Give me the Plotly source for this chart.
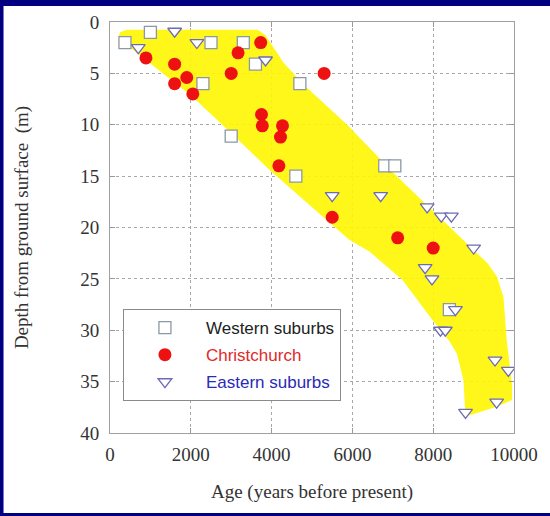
import plotly.graph_objects as go

# ---------------- data ----------------
western_age = [370, 1000, 2500, 3300, 3600, 2300, 4700, 3000, 4600, 6800, 7050, 8400]
western_depth = [2.0, 1.0, 2.0, 2.0, 4.1, 6.0, 6.0, 11.1, 15.0, 14.0, 14.0, 28.0]

christchurch_age = [890, 1600, 1600, 1900, 2050, 3000, 3170, 3730, 3750, 3770, 4270,
                    4220, 4180, 5300, 5500, 7120, 8000]
christchurch_depth = [3.5, 4.1, 6.0, 5.4, 7.0, 5.0, 3.0, 2.0, 9.0, 10.1, 10.1,
                      11.2, 14.0, 5.0, 19.0, 21.0, 22.0]

eastern_age = [700, 1600, 2150, 3850, 5500, 6700, 7850, 8200, 8450, 9000, 7800,
               7970, 8550, 8180, 8300, 9530, 9860, 9570, 8800]
eastern_depth = [2.5, 0.9, 2.0, 3.7, 16.9, 16.9, 18.0, 18.9, 18.9, 22.0, 23.9,
                 25.0, 28.0, 30.0, 30.0, 32.9, 33.9, 37.0, 38.0]

# outline of the yellow envelope (age, depth)
band_age = [250, 420, 3650, 3850, 4300, 4850, 5870, 7100, 8950, 9350, 9580, 9740,
            9820, 9950, 9950, 9530, 8880, 8790, 8750, 8590, 8390, 7980, 7240, 6410,
            5920, 3950, 3050, 2020, 260, 220]
band_depth = [1.0, 0.75, 0.75, 1.3, 4.0, 6.3, 10.0, 15.0, 22.0, 23.5, 24.8, 26.8,
              31.0, 35.2, 36.8, 37.5, 38.3, 37.8, 34.9, 32.3, 31.0, 29.0, 25.1, 22.3,
              21.2, 14.4, 11.0, 7.2, 1.75, 1.3]

x_ticks = [0, 2000, 4000, 6000, 8000, 10000]
y_ticks = [0, 5, 10, 15, 20, 25, 30, 35, 40]

# ---------------- layout helpers ----------------
W, H = 550, 516
ML, MR, MT, MB = 110, 34, 22, 83
PW, PH = W - ML - MR, H - MT - MB


def pxx(px):
    return (px - ML) / PW


def pxy(py):
    return (H - MB - py) / PH


SERIF = "Liberation Serif"
SANS = "Liberation Sans"

fig = go.Figure()

fig.add_trace(go.Scatter(
    x=band_age, y=band_depth, mode="lines", fill="toself",
    fillcolor="rgba(255,246,0,0.9)", line=dict(width=0, color="rgba(0,0,0,0)"),
    hoverinfo="skip", showlegend=False))

fig.add_trace(go.Scatter(
    x=western_age, y=western_depth, mode="markers",
    name="<span style='color:#222222'>Western suburbs</span>",
    legendgroup="w",
    marker=dict(symbol="square", size=12, color="white",
                line=dict(width=1.3, color="#8c98a4"))))

fig.add_trace(go.Scatter(
    x=christchurch_age, y=christchurch_depth, mode="markers",
    name="<span style='color:#e02a2a'>Christchurch</span>",
    legendgroup="c",
    marker=dict(symbol="circle", size=13, color="#ee1111",
                line=dict(width=0))))

fig.add_trace(go.Scatter(
    x=eastern_age, y=eastern_depth, mode="markers",
    name="<span style='color:#2a2ab8'>Eastern suburbs</span>",
    legendgroup="e",
    marker=dict(symbol="triangle-down", size=12, color="white",
                line=dict(width=1.3, color="#6c6cb4"))))

axis_common = dict(
    showgrid=True, gridcolor="#a8a8a8", gridwidth=1, griddash="3px,3px",
    zeroline=False, ticks="inside", ticklen=5, tickcolor="#999999",
    showline=True, linecolor="#a0a0a0", linewidth=1, mirror="ticks",
    tickfont=dict(family=SERIF, size=19, color="#333333"),
)

fig.update_xaxes(
    range=[0, 10000], tickvals=x_ticks, ticktext=[str(v) for v in x_ticks],
    title=dict(text="Age (years before present)",
               font=dict(family=SERIF, size=19, color="#333333"), standoff=20),
    ticklabelstandoff=4,
    **axis_common)

fig.update_yaxes(
    range=[40, 0], tickvals=y_ticks, ticktext=[str(v) for v in y_ticks],
    title=dict(text="Depth from ground surface\u00a0 (m)",
               font=dict(family=SERIF, size=19, color="#333333"), standoff=46),
    ticklabelstandoff=6,
    **axis_common)

fig.update_layout(
    width=W, height=H, autosize=False,
    margin=dict(l=ML, r=MR, t=MT, b=MB, pad=0),
    paper_bgcolor="#000080", plot_bgcolor="white",
    showlegend=True,
    legend=dict(x=pxx(123), y=pxy(309), xanchor="left", yanchor="top",
                bgcolor="white", bordercolor="#8a8a8a", borderwidth=1,
                font=dict(family=SANS, size=17, color="#222222"),
                itemwidth=72, tracegroupgap=2),
    shapes=[dict(type="rect", xref="paper", yref="paper",
                 x0=pxx(3), x1=pxx(560), y0=pxy(513), y1=pxy(6),
                 fillcolor="white", line=dict(width=0), layer="below")],
)

fig.write_html("out.html")
